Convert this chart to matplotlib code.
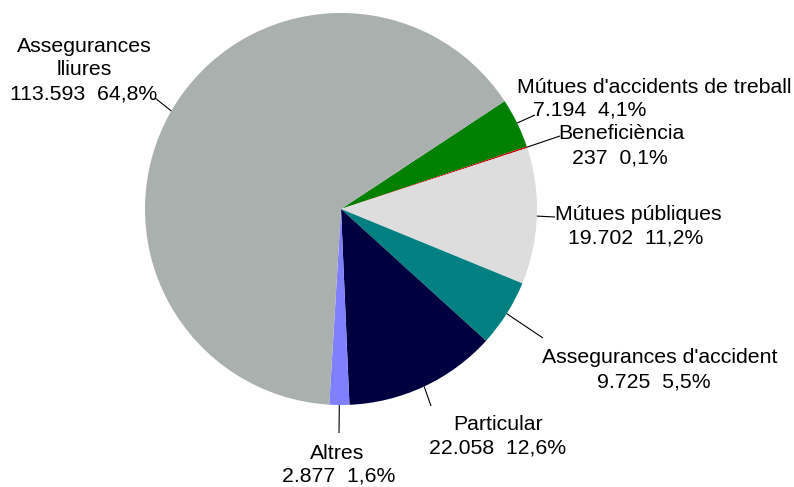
import numpy as np
import matplotlib
matplotlib.use("Agg")
import matplotlib.pyplot as plt

# Data (pie order, clockwise from the green slice)
names = ["Mútues d'accidents de treball", "Beneficiència", "Mútues públiques",
         "Assegurances d'accident", "Particular", "Altres", "Assegurances\nlliures"]
values = [7194, 237, 19702, 9725, 22058, 2877, 113593]
pcts = [4.1, 0.1, 11.2, 5.5, 12.6, 1.6, 64.8]
colors = ["#008000", "#C00000", "#DDDDDD", "#008080", "#000040", "#8080FF", "#A9B0AE"]

W, H = 794, 487
fig = plt.figure(figsize=(W / 100, H / 100), dpi=100)
ax = fig.add_axes([0, 0, 1, 1])

cx, cy, r = 341, H - 209, 196
wedges, _ = ax.pie(values, colors=colors, startangle=33.4, counterclock=False,
                   center=(cx, cy), radius=r, wedgeprops=dict(linewidth=0))
ax.set_xlim(0, W)
ax.set_ylim(0, H)
ax.set_aspect('auto')
ax.axis('off')

def fmt_val(v):
    return f"{v:,}".replace(",", ".")

def fmt_pct(p):
    return f"{p:.1f}".replace(".", ",") + "%"

# leader-line end points (pixel coords, y from top)
line_ends = [(535, 115), (560, 136), (555, 217), (543, 338), (431, 406), (339, 433), (155, 98)]
# text line positions: list of (x_center, baseline_y_from_top) for each text line
text_pos = [
    [(654, 93), (590, 116)],
    [(621, 139), (620, 163)],
    [(638, 220), (636, 244)],
    [(660, 363), (654, 387)],
    [(498, 430), (498, 454)],
    [(337, 459), (339, 482)],
    [(84, 52), (84, 75), (84, 99)],
]

font = dict(family=["Liberation Sans", "DejaVu Sans"], fontsize=15.3, color="black")

for w, end, pos, nm, v, p in zip(wedges, line_ends, text_pos, names, values, pcts):
    mid = np.deg2rad((w.theta1 + w.theta2) / 2)
    x0, y0 = cx + r * np.cos(mid), cy + r * np.sin(mid)
    ax.plot([x0, end[0]], [y0, H - end[1]], color="black", lw=0.8, solid_capstyle="butt")
    lines = nm.split("\n") + [f"{fmt_val(v)}  {fmt_pct(p)}"]
    for (tx, ty), s in zip(pos, lines):
        ax.text(tx, H - ty, s, ha="center", va="baseline", **font)

fig.savefig("out.png", dpi=100)
